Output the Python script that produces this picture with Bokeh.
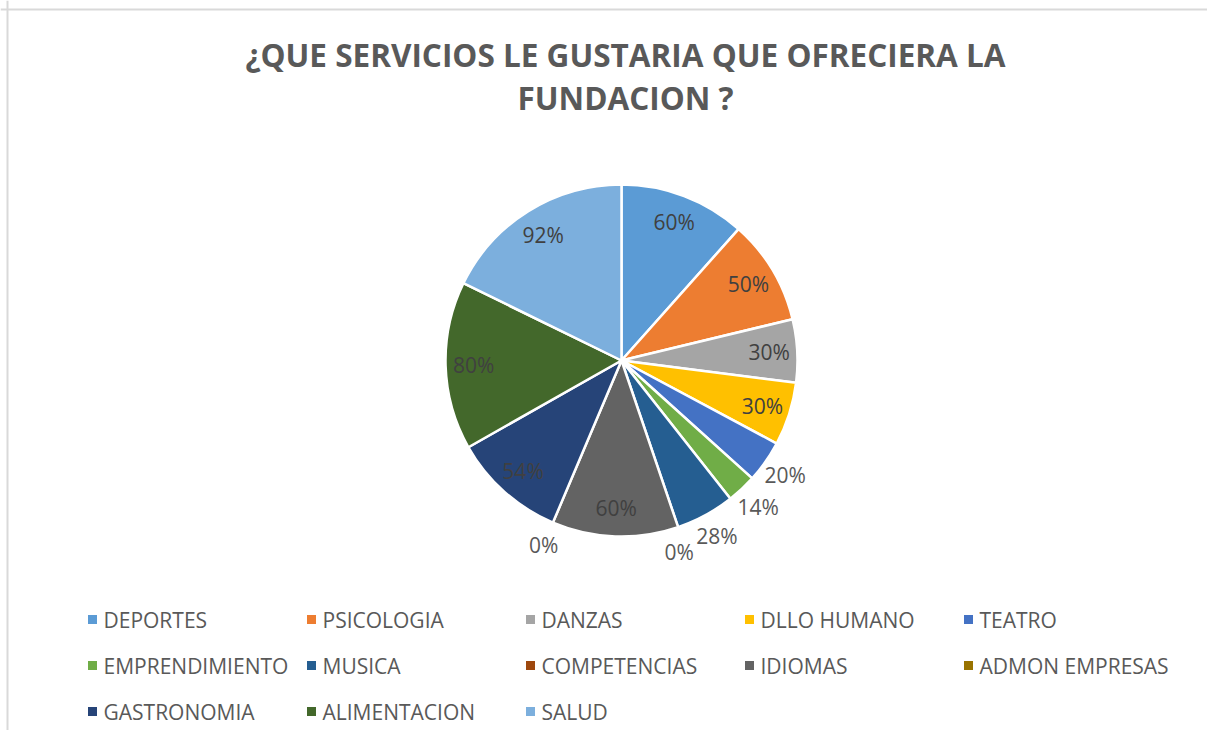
import math
from bokeh.plotting import figure
from bokeh.models import Range1d, Span, ColumnDataSource
from bokeh.core.properties import value
from bokeh.embed import file_html
from bokeh.resources import INLINE

title_lines = ["¿QUE SERVICIOS LE GUSTARIA QUE OFRECIERA LA", "FUNDACION ?"]
categories = ["DEPORTES", "PSICOLOGIA", "DANZAS", "DLLO HUMANO", "TEATRO",
              "EMPRENDIMIENTO", "MUSICA", "COMPETENCIAS", "IDIOMAS", "ADMON EMPRESAS",
              "GASTRONOMIA", "ALIMENTACION", "SALUD"]
values = [60, 50, 30, 30, 20, 14, 28, 0, 60, 0, 54, 80, 92]
colors = ["#5B9BD5", "#ED7D31", "#A5A5A5", "#FFC000", "#4472C4",
          "#70AD47", "#255E91", "#9E480E", "#636363", "#997300",
          "#264478", "#43682B", "#7CAFDD"]

W, H = 1207, 730
p = figure(width=W, height=H, output_backend="svg", toolbar_location=None,
           x_range=Range1d(0, W), y_range=Range1d(0, H), min_border=0)
p.axis.visible = False
p.grid.visible = False
p.outline_line_color = None
p.background_fill_color = "white"
p.border_fill_color = "white"

def sy(y):  # layout helper: pixel row from top -> data y
    return H - y

# chart area border (top & left visible)
p.add_layout(Span(location=7, dimension="height", line_color="#D9D9D9", line_width=2))
p.add_layout(Span(location=sy(9), dimension="width", line_color="#D9D9D9", line_width=2))

cx, cy, R = 621, sy(360), 176
total = float(sum(values))
starts, ends, mids = [], [], []
cum = 0.0
for v in values:
    a0 = math.pi / 2 - 2 * math.pi * cum / total
    cum += v
    a1 = math.pi / 2 - 2 * math.pi * cum / total
    starts.append(a0)
    ends.append(a1)
    mids.append((a0 + a1) / 2)

nz = [i for i, v in enumerate(values) if v > 0]
src = ColumnDataSource(dict(start=[starts[i] for i in nz], end=[ends[i] for i in nz],
                            color=[colors[i] for i in nz]))
p.wedge(x=cx, y=cy, radius=R, start_angle="start", end_angle="end", direction="clock",
        fill_color="color", line_color="white", line_width=2.5, source=src)

# data labels (simple collision avoidance for outside labels)
FS = 21
def box(x, y, txt):
    w = (len(txt) - 1) * 0.57 * FS + 0.84 * FS
    return (x - w / 2, x + w / 2, y - FS / 2, y + FS / 2)

def overlap(a, b):
    return not (a[1] < b[0] or b[1] < a[0] or a[3] < b[2] or b[3] < a[2])

lx, ly, lt, lc = [], [], [], []
placed = []
for v, m in zip(values, mids):
    txt = f"{v}%"
    if v > 28:
        r = 148
        x, y = cx + r * math.cos(m), cy + r * math.sin(m)
    else:
        r = 200
        ang = m
        for _ in range(40):
            x, y = cx + r * math.cos(ang), cy + r * math.sin(ang)
            if not any(overlap(box(x, y, txt), b) for b in placed):
                break
            ang -= math.radians(1)
        placed.append(box(x, y, txt))
    lx.append(x)
    ly.append(y)
    lt.append(txt)
    lc.append("#404040" if v > 28 else "#595959")
p.text(x=lx, y=ly, text=lt, text_color=lc, text_font=value("Open Sans"),
       text_font_size=f"{FS}px", text_align="center", text_baseline="middle")

# title
p.text(x=[625, 625], y=[sy(54), sy(97)], text=title_lines, text_color="#595959",
       text_font=value("Open Sans"), text_font_style="bold", text_font_size="31.5px",
       text_align="center", text_baseline="middle")

# legend grid
ncol = 5
mx, my, tx = [], [], []
for i, c in enumerate(categories):
    row, col = divmod(i, ncol)
    mx.append(92 + 219 * col)
    my.append(sy(619 + 46 * row))
    tx.append(103 + 219 * col)
p.scatter(x=mx, y=my, marker="square", size=9, fill_color=colors, line_color=None)
p.text(x=tx, y=my, text=categories, text_color="#595959", text_font=value("Open Sans"),
       text_font_size="21px", text_align="left", text_baseline="middle")

open("out.html", "w").write(file_html(p, INLINE))
